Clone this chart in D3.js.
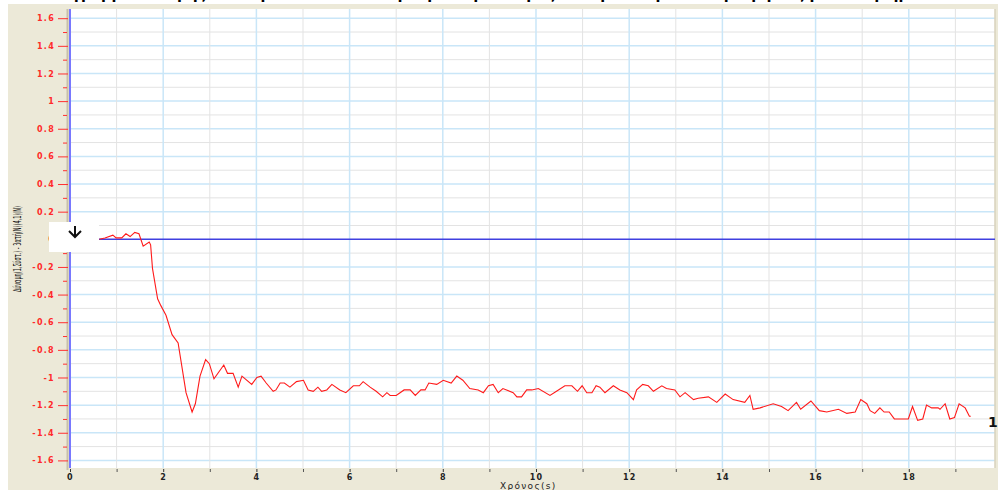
<!DOCTYPE html>
<html>
<head>
<meta charset="utf-8">
<script src="https://cdn.jsdelivr.net/npm/d3@7"></script>
<style>
  body { margin: 0; background: #fff; }
  svg { display: block; }
</style>
</head>
<body>
<svg id="chart"></svg>
<script>
const width = 998;
const height = 490;

// readings: time (s) and force
const times = [0.63, 0.75, 0.92, 0.99, 1.11, 1.20, 1.29, 1.39, 1.48, 1.57, 1.70, 1.73, 1.77, 1.88, 1.95,
  2.06, 2.19, 2.32, 2.49, 2.62, 2.69, 2.79, 2.91, 2.99, 3.09, 3.30, 3.38, 3.50, 3.61, 3.69, 3.90,
  4.01, 4.10, 4.21, 4.36, 4.42, 4.51, 4.60, 4.72, 4.86, 5.01, 5.11, 5.22, 5.32, 5.40, 5.51, 5.62,
  5.79, 5.92, 6.08, 6.21, 6.29, 6.44, 6.57, 6.71, 6.80, 6.87, 7.00, 7.17, 7.30, 7.41, 7.53, 7.62,
  7.70, 7.87, 8.01, 8.18, 8.30, 8.43, 8.58, 8.76, 8.87, 8.98, 9.08, 9.19, 9.29, 9.51, 9.59, 9.69,
  9.80, 9.91, 10.05, 10.30, 10.44, 10.62, 10.77, 10.89, 10.99, 11.09, 11.20, 11.29, 11.37, 11.48,
  11.66, 11.80, 11.95, 12.09, 12.16, 12.29, 12.41, 12.52, 12.70, 12.80, 12.98, 13.09, 13.20, 13.38,
  13.48, 13.70, 13.88, 14.06, 14.23, 14.48, 14.59, 14.66, 14.81, 15.09, 15.27, 15.41, 15.59, 15.68,
  15.90, 16.08, 16.24, 16.49, 16.67, 16.85, 16.97, 17.10, 17.17, 17.27, 17.38, 17.47, 17.58, 17.69,
  17.99, 18.08, 18.19, 18.30, 18.38, 18.49, 18.63, 18.67, 18.78, 18.88, 18.98, 19.08, 19.21, 19.30, 19.33];
const forces = [0.00, 0.01, 0.03, 0.01, 0.01, 0.04, 0.02, 0.05, 0.04, -0.05, -0.02, -0.04, -0.21, -0.43, -0.48,
  -0.55, -0.69, -0.75, -1.11, -1.25, -1.19, -0.99, -0.87, -0.90, -1.01, -0.91, -0.97, -0.97, -1.07, -0.99, -1.05,
  -1.00, -0.99, -1.04, -1.10, -1.09, -1.04, -1.04, -1.07, -1.03, -1.02, -1.09, -1.10, -1.07, -1.10, -1.09, -1.05,
  -1.09, -1.11, -1.06, -1.06, -1.03, -1.07, -1.10, -1.14, -1.11, -1.13, -1.13, -1.09, -1.09, -1.13, -1.09, -1.09,
  -1.04, -1.05, -1.02, -1.04, -0.99, -1.02, -1.08, -1.09, -1.11, -1.06, -1.05, -1.11, -1.08, -1.11, -1.14, -1.14,
  -1.09, -1.09, -1.08, -1.13, -1.10, -1.06, -1.06, -1.10, -1.06, -1.11, -1.11, -1.06, -1.07, -1.11,
  -1.06, -1.09, -1.11, -1.16, -1.09, -1.05, -1.06, -1.10, -1.06, -1.08, -1.09, -1.14, -1.11, -1.16,
  -1.15, -1.14, -1.18, -1.12, -1.16, -1.18, -1.13, -1.23, -1.22, -1.19, -1.21, -1.24, -1.18, -1.23,
  -1.17, -1.24, -1.25, -1.23, -1.26, -1.25, -1.16, -1.19, -1.24, -1.26, -1.22, -1.25, -1.25, -1.30,
  -1.30, -1.21, -1.31, -1.30, -1.20, -1.22, -1.22, -1.23, -1.19, -1.30, -1.29, -1.19, -1.22, -1.28, -1.28];

const yMajorTicks = [-1.6, -1.4, -1.2, -1, -0.8, -0.6, -0.4, -0.2, 0, 0.2, 0.4, 0.6, 0.8, 1, 1.2, 1.4, 1.6];
const yMinorTicks = [-1.5, -1.3, -1.1, -0.9, -0.7, -0.5, -0.3, -0.1, 0.1, 0.3, 0.5, 0.7, 0.9, 1.1, 1.3, 1.5];
const xMajorTicks = [0, 2, 4, 6, 8, 10, 12, 14, 16, 18];
const xMinorTicks = [1, 3, 5, 7, 9, 11, 13, 15, 17, 19];

const titleText = 'Διάγραμμα Δύναμης (F) - Χρόνου (t) κατά την κρούση του αμαξιδίου με το εμπόδιο (μετρήσεις με αισθητήρα)';
const xTitle = 'Χρόνος(s)';
const yTitle = 'Δύναμη(1,Σύστ.) - 3ατή(Ν)(4,1)(Ν)';

const plot = { left: 70, right: 995, top: 9, bottom: 468 };

const svg = d3.select('#chart')
  .attr('width', width)
  .attr('height', height);

const x = d3.scaleLinear().domain([0, 19.85]).range([plot.left, plot.right]);
const y = d3.scaleLinear().domain([-1.6, 1.6]).range([460.4, 18.2]);

// window background
svg.append('rect')
  .attr('x', 8).attr('y', 4)
  .attr('width', width - 8).attr('height', height - 4)
  .attr('fill', '#ece9d8');

svg.append('rect')
  .attr('x', plot.left).attr('y', plot.top)
  .attr('width', plot.right - plot.left).attr('height', plot.bottom - plot.top)
  .attr('fill', '#fff');

// grid
const grid = svg.append('g');
grid.selectAll('.hgrid-minor')
  .data(yMinorTicks)
  .enter().append('line')
    .attr('x1', plot.left).attr('x2', plot.right)
    .attr('y1', d => y(d)).attr('y2', d => y(d))
    .attr('stroke', '#e3e3e3');
grid.selectAll('.hgrid-major')
  .data(yMajorTicks.filter(d => d !== 0))
  .enter().append('line')
    .attr('x1', plot.left).attr('x2', plot.right)
    .attr('y1', d => y(d)).attr('y2', d => y(d))
    .attr('stroke', '#c9e6f8')
    .attr('stroke-width', 1.5);
grid.selectAll('.vgrid-minor')
  .data(xMinorTicks)
  .enter().append('line')
    .attr('x1', d => x(d)).attr('x2', d => x(d))
    .attr('y1', plot.top).attr('y2', plot.bottom)
    .attr('stroke', '#e3e3e3');
grid.selectAll('.vgrid-major')
  .data(xMajorTicks.filter(d => d !== 0))
  .enter().append('line')
    .attr('x1', d => x(d)).attr('x2', d => x(d))
    .attr('y1', plot.top).attr('y2', plot.bottom)
    .attr('stroke', '#c9e6f8')
    .attr('stroke-width', 1.5);

// right border of the plot
svg.append('line')
  .attr('x1', plot.right).attr('x2', plot.right)
  .attr('y1', plot.top).attr('y2', plot.bottom)
  .attr('stroke', '#d8d2bc').attr('stroke-width', 1.5);

// zero line
svg.append('line')
  .attr('x1', plot.left).attr('x2', plot.right)
  .attr('y1', y(0)).attr('y2', y(0))
  .attr('stroke', '#4040e0')
  .attr('stroke-width', 1.5);

// y axis lines
svg.append('line')
  .attr('x1', 67.5).attr('x2', 67.5)
  .attr('y1', plot.top).attr('y2', 470)
  .attr('stroke', '#c8c1a9').attr('stroke-width', 2);
svg.append('line')
  .attr('x1', plot.left).attr('x2', plot.left)
  .attr('y1', plot.top).attr('y2', plot.bottom)
  .attr('stroke', '#7878ff').attr('stroke-width', 2);

// data line
const line = d3.line()
  .x((d, i) => x(times[i]))
  .y(d => y(d));
svg.append('path')
  .datum(forces)
  .attr('d', line)
  .attr('fill', 'none')
  .attr('stroke', '#ff1a1a')
  .attr('stroke-width', 1.1);

// y axis ticks
const yAxis = svg.append('g')
  .attr('transform', 'translate(68,0)')
  .call(d3.axisLeft(y).tickValues(yMajorTicks).tickSize(10).tickPadding(3).tickFormat(d => String(d)));
yAxis.select('.domain').remove();
yAxis.selectAll('line').attr('stroke', '#ff3030');
yAxis.selectAll('text')
  .attr('fill', '#ff2a2a')
  .style('font-family', 'DejaVu Sans, sans-serif')
  .style('font-size', '8px')
  .style('font-weight', 'bold')
  .style('letter-spacing', '1.3px');

const yMinor = svg.append('g')
  .attr('transform', 'translate(67,0)')
  .call(d3.axisLeft(y).tickValues(yMinorTicks).tickSize(4).tickFormat(''));
yMinor.select('.domain').remove();
yMinor.selectAll('line').attr('stroke', '#ff3030');

// x axis ticks
const xAxis = svg.append('g')
  .attr('transform', `translate(0,${plot.bottom + 1})`)
  .call(d3.axisBottom(x).tickValues(xMajorTicks).tickSize(3).tickPadding(2).tickFormat(d => String(d)));
xAxis.select('.domain').remove();
xAxis.selectAll('line').attr('stroke', '#333');
xAxis.selectAll('text')
  .attr('fill', '#222')
  .style('font-family', 'DejaVu Sans, sans-serif')
  .style('font-size', '8px')
  .style('font-weight', 'bold')
  .style('letter-spacing', '1.2px');

const xMinor = svg.append('g')
  .attr('transform', `translate(0,${plot.bottom + 1})`)
  .call(d3.axisBottom(x).tickValues(xMinorTicks).tickSize(3).tickFormat(''));
xMinor.select('.domain').remove();
xMinor.selectAll('line').attr('stroke', '#555');

// axis titles
svg.append('text')
  .attr('x', 500).attr('y', 488.5)
  .attr('fill', '#222')
  .style('font-family', 'DejaVu Sans, sans-serif')
  .style('font-size', '9px')
  .style('letter-spacing', '1.3px')
  .text(xTitle);

svg.append('text')
  .attr('transform', 'translate(21,249) rotate(-90)')
  .attr('text-anchor', 'middle')
  .attr('textLength', 86)
  .attr('lengthAdjust', 'spacingAndGlyphs')
  .attr('fill', '#111')
  .style('font-family', 'DejaVu Sans Condensed, DejaVu Sans, sans-serif')
  .style('font-size', '11px')
  .text(yTitle);

// title, only its lowest edge shows at the top of the window
svg.append('text')
  .attr('x', 45).attr('y', -2)
  .attr('textLength', 880)
  .attr('lengthAdjust', 'spacingAndGlyphs')
  .attr('fill', '#000')
  .style('font-family', 'DejaVu Sans, sans-serif')
  .style('font-size', '17px')
  .style('font-weight', 'bold')
  .text(titleText);

// marker box with arrow
svg.append('rect')
  .attr('x', 49).attr('y', 222)
  .attr('width', 50).attr('height', 30)
  .attr('fill', '#fff');
const arrow = svg.append('g')
  .attr('transform', 'translate(75,226)')
  .attr('fill', 'none')
  .attr('stroke', '#111')
  .attr('stroke-width', 2);
arrow.append('line').attr('x1', 0).attr('x2', 0).attr('y1', 0).attr('y2', 11);
arrow.append('path').attr('d', 'M-6,5 L0,11 L6,5');

// end marker
svg.append('text')
  .attr('x', 988).attr('y', 427)
  .attr('fill', '#111')
  .style('font-family', 'DejaVu Sans, sans-serif')
  .style('font-size', '14px')
  .style('font-weight', 'bold')
  .text('1');
</script>
</body>
</html>
